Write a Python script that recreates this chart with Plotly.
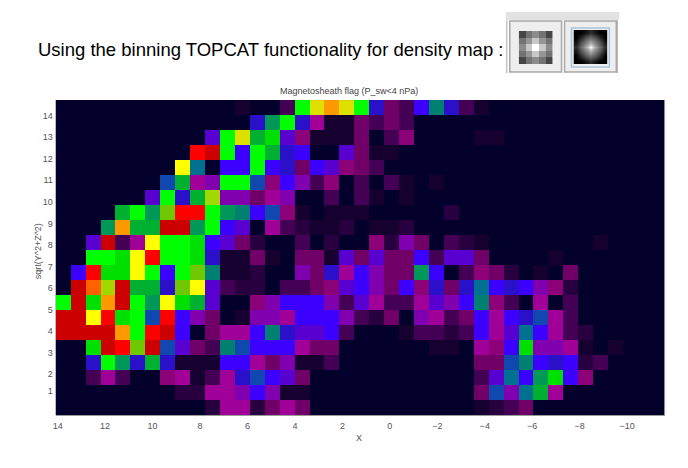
import plotly.graph_objects as go

W, H = 688, 468

# Density levels, dark to hot, one letter per bin (top row first; unlisted bins are empty)
level_keys = ".abcdefghijklmnopqrstuvwxy"
level_colors = ["#03002c", "#15002f", "#280040", "#440054", "#700068", "#8c0078", "#a00098",
                "#8000b0", "#5800d0", "#3c00ff", "#2a10c8", "#1048b0", "#007090", "#008070",
                "#009858", "#00b030", "#00e000", "#00ff00", "#70c800", "#a0d800", "#e0e000",
                "#ffff00", "#ff9900", "#ff6000", "#ff0000", "#cc0000"]
density_rows = [
    "............a..cqtvtqjdcimjca",
    "............."+"jnqjfaadcdc",
    "..........hqtopheaaad.ce....aa",
    ".........xyqiqoji..hdaa",
    "........ul.iiqijdihedc",
    ".......kofgqqkeigce.c.ca.a",
    "......hqjosggdfg..c.ca.a",
    "....oqnrxxqnmikea.aaa.....b",
    "...nvooyynqih.fcbaab.aab",
    "..hycfuqqpihdb..c.b..ebgd.cba.......a",
    "..qqpuxqqpjaada.ddahdhddichhd....a",
    ".ixppuqiqrmaab..gdjfigddni.cedb.a.d",
    ".ywsyoojruhcbb.ccdehigdiejdjlijigeb",
    "qypvyqnupoh..egiiigchfccfhgimec.f.c",
    "yyuxpqkxigd.aggfiiigcbd.gfcdifijkfc",
    "yyyyvqxyi.dffimjhhic...accbcifhlifcb",
    "..pyxrykhdcmkiiifdd......aa.feipggfa.a",
    "..jqnjojaaaiifdgaac.........ddkmijibc",
    "..cfc..efacfjkihd...........chlinpie",
    "........bbffgigaa...........dkglof",
    "..........bffbdfd...........abcd",
]
n_cols = 41
x_start, x_step = 13.765, -0.6294   # bin centres along X
y_top, y_step = 14.38, -0.6967      # bin centres along sqrt(Y^2+Z^2)

x_ticks = [14, 12, 10, 8, 6, 4, 2, 0, -2, -4, -6, -8, -10]
y_ticks = [14, 13, 12, 11, 10, 9, 8, 7, 6, 5, 4, 3, 2, 1.23]
y_tick_labels = ["14", "13", "12", "11", "10", "9", "8", "7", "6", "5", "4", "3", "2", "1"]

icon_grid = [[70, 115, 140, 115, 70], [115, 150, 200, 150, 115], [140, 200, 255, 200, 140],
             [115, 150, 200, 150, 115], [70, 115, 140, 115, 70]]
icon_smooth = [[0, 0, 20, 45, 20, 0, 0], [0, 40, 85, 110, 85, 40, 0], [20, 85, 130, 170, 130, 85, 20],
               [45, 110, 170, 255, 170, 110, 45], [20, 85, 130, 170, 130, 85, 20],
               [0, 40, 85, 110, 85, 40, 0], [0, 0, 20, 45, 20, 0, 0]]

headline = "Using the binning TOPCAT functionality for density map :"
plot_title = "Magnetosheath flag (P_sw&lt;4 nPa)"
x_title = "X"
y_title = "sqrt(Y^2+Z^2)"


def px(x):
    return x / W


def py(y):
    return 1 - y / H


z = [[level_keys.index(ch) for ch in row.ljust(n_cols, ".")] for row in density_rows]
xs = [x_start + i * x_step for i in range(n_cols)]
ys = [y_top + i * y_step for i in range(len(z))]
n_lv = len(level_colors) - 1
colorscale = [[i / n_lv, c] for i, c in enumerate(level_colors)]
gray = [[0, "#000000"], [1, "#ffffff"]]

fig = go.Figure()
fig.add_trace(go.Heatmap(z=z, x=xs, y=ys, zmin=0, zmax=n_lv, colorscale=colorscale,
                         showscale=False, hoverongaps=False))
fig.add_trace(go.Heatmap(z=icon_grid, zmin=0, zmax=255, colorscale=gray, showscale=False,
                         xaxis="x2", yaxis="y2"))
fig.add_trace(go.Heatmap(z=icon_smooth, zmin=0, zmax=255, colorscale=gray, showscale=False,
                         zsmooth="best", xaxis="x3", yaxis="y3"))

tick_font = dict(family="Liberation Sans, Arial, sans-serif", size=9, color="#555555")
hidden = dict(visible=False, fixedrange=True)


def rect(x0, y0, x1, y1, fill=None, line=None, width=1):
    return dict(type="rect", xref="paper", yref="paper", x0=px(x0), x1=px(x1), y0=py(y1), y1=py(y0),
                fillcolor=fill or "rgba(0,0,0,0)", line=dict(color=line or "rgba(0,0,0,0)", width=width),
                layer="below")


shapes = [
    rect(505, 12, 619, 20, fill="#e2e2e2"),
    rect(505.5, 20, 506.5, 73, fill="#a8a8a8"),
    rect(616.5, 20, 617.5, 73, fill="#a8a8a8"),
    rect(509, 21, 561, 72, fill="#eeeeee", line="#a8a8a8", width=1.5),
    rect(564, 21, 616, 72, fill="#eeeeee", line="#a8a8a8", width=1.5),
    rect(571, 28, 609, 67, fill="#eeeeee", line="#a9c4dc", width=1.5),
    dict(type="line", xref="paper", yref="paper", x0=px(664.5), x1=px(664.5), y0=py(415), y1=py(100),
         line=dict(color="#9a9a9a", width=1)),
]

annotations = [
    dict(text=headline, x=px(33), y=py(49.5), xref="paper", yref="paper", xanchor="left", yanchor="middle",
         showarrow=False, font=dict(family="Liberation Sans, Arial, sans-serif", size=18.5, color="#000000")),
    dict(text=plot_title, x=px(348), y=py(91), xref="paper", yref="paper", xanchor="center", yanchor="middle",
         showarrow=False, font=dict(family="Liberation Sans, Arial, sans-serif", size=9, color="#444444")),
    dict(text=x_title, x=px(358), y=py(438), xref="paper", yref="paper", xanchor="center", yanchor="middle",
         showarrow=False, font=tick_font),
    dict(text=y_title, x=px(35), y=py(251.5), xref="paper", yref="paper", xanchor="center", yanchor="middle",
         textangle=-90, showarrow=False, font=tick_font),
]

fig.update_layout(
    width=W, height=H, autosize=False, margin=dict(l=0, r=0, t=0, b=0),
    paper_bgcolor="#ffffff", plot_bgcolor="#03002c", showlegend=False,
    shapes=shapes, annotations=annotations,
    xaxis=dict(domain=[px(53), px(664.5)], range=[14.08, -11.58], tickmode="array", tickvals=x_ticks,
               ticks="", showgrid=False, zeroline=False, showline=True, linecolor="#9a9a9a", linewidth=1,
               tickfont=tick_font, ticklabelstandoff=2),
    yaxis=dict(domain=[py(415), py(100)], range=[0.10, 14.73], tickmode="array", tickvals=y_ticks,
               ticktext=y_tick_labels, ticks="", showgrid=False, zeroline=False, showline=False,
               tickfont=tick_font, ticklabelstandoff=2),
    xaxis2=dict(domain=[px(518), px(552)], anchor="y2", **hidden),
    yaxis2=dict(domain=[py(64), py(31)], anchor="x2", **hidden),
    xaxis3=dict(domain=[px(573), px(607)], anchor="y3", **hidden),
    yaxis3=dict(domain=[py(64), py(30)], anchor="x3", **hidden),
)

fig.write_html("out.html", post_script="document.body.style.margin='0';",
               config=dict(displayModeBar=False))
